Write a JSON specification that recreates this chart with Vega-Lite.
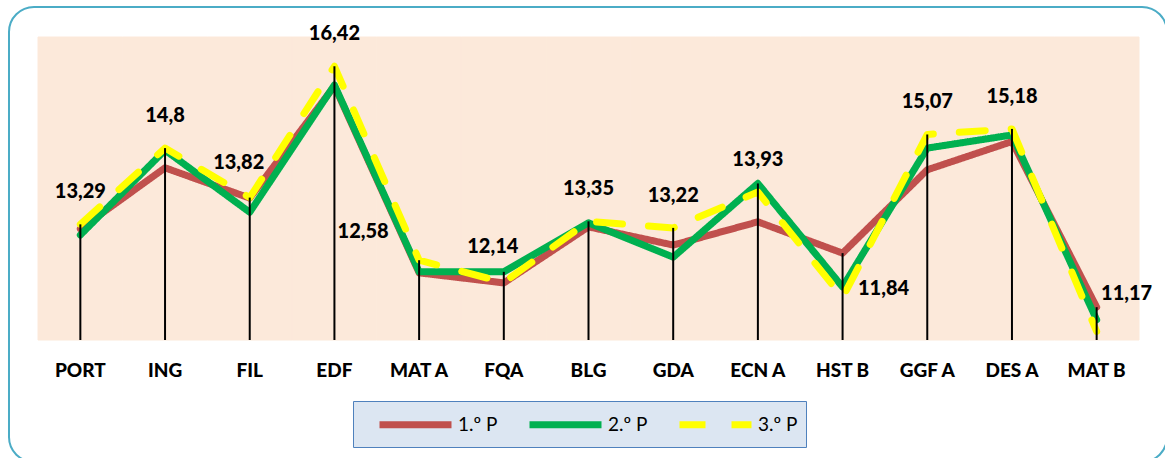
{
  "$schema": "https://vega.github.io/schema/vega-lite/v6.json",
  "width": 1158,
  "height": 455,
  "autosize": {"type": "none"},
  "padding": {"left": 9, "top": 7, "right": 0, "bottom": 0},
  "background": "white",
  "config": {
    "view": {"stroke": "#4BACC6", "strokeWidth": 2, "cornerRadius": 25},
    "locale": {"number": {"decimal": ",", "thousands": ".", "grouping": [3], "currency": ["", " €"]}},
    "font": "Lato"
  },
  "data": {
    "values": [
      {"subject": "PORT", "period": "1.º P", "value": 13.2},
      {"subject": "ING", "period": "1.º P", "value": 14.41},
      {"subject": "FIL", "period": "1.º P", "value": 13.81},
      {"subject": "EDF", "period": "1.º P", "value": 16.03},
      {"subject": "MAT A", "period": "1.º P", "value": 12.33},
      {"subject": "FQA", "period": "1.º P", "value": 12.13},
      {"subject": "BLG", "period": "1.º P", "value": 13.24},
      {"subject": "GDA", "period": "1.º P", "value": 12.88},
      {"subject": "ECN A", "period": "1.º P", "value": 13.34},
      {"subject": "HST B", "period": "1.º P", "value": 12.72},
      {"subject": "GGF A", "period": "1.º P", "value": 14.37},
      {"subject": "DES A", "period": "1.º P", "value": 14.93},
      {"subject": "MAT B", "period": "1.º P", "value": 11.65},
      {"subject": "PORT", "period": "2.º P", "value": 13.08},
      {"subject": "ING", "period": "2.º P", "value": 14.76},
      {"subject": "FIL", "period": "2.º P", "value": 13.53},
      {"subject": "EDF", "period": "2.º P", "value": 16.05},
      {"subject": "MAT A", "period": "2.º P", "value": 12.35},
      {"subject": "FQA", "period": "2.º P", "value": 12.35},
      {"subject": "BLG", "period": "2.º P", "value": 13.32},
      {"subject": "GDA", "period": "2.º P", "value": 12.64},
      {"subject": "ECN A", "period": "2.º P", "value": 14.1},
      {"subject": "HST B", "period": "2.º P", "value": 12.05},
      {"subject": "GGF A", "period": "2.º P", "value": 14.8},
      {"subject": "DES A", "period": "2.º P", "value": 15.06},
      {"subject": "MAT B", "period": "2.º P", "value": 11.4},
      {"subject": "PORT", "period": "3.º P", "value": 13.29},
      {"subject": "ING", "period": "3.º P", "value": 14.8},
      {"subject": "FIL", "period": "3.º P", "value": 13.82},
      {"subject": "EDF", "period": "3.º P", "value": 16.42},
      {"subject": "MAT A", "period": "3.º P", "value": 12.58},
      {"subject": "FQA", "period": "3.º P", "value": 12.14},
      {"subject": "BLG", "period": "3.º P", "value": 13.35},
      {"subject": "GDA", "period": "3.º P", "value": 13.22},
      {"subject": "ECN A", "period": "3.º P", "value": 13.93},
      {"subject": "HST B", "period": "3.º P", "value": 11.84},
      {"subject": "GGF A", "period": "3.º P", "value": 15.07},
      {"subject": "DES A", "period": "3.º P", "value": 15.18},
      {"subject": "MAT B", "period": "3.º P", "value": 11.17}
    ]
  },
  "encoding": {
    "x": {
      "field": "subject",
      "type": "nominal",
      "scale": {
        "type": "band",
        "domain": ["PORT", "ING", "FIL", "EDF", "MAT A", "FQA", "BLG", "GDA", "ECN A", "HST B", "GGF A", "DES A", "MAT B"],
        "range": [29, 1130],
        "paddingInner": 0,
        "paddingOuter": 0
      },
      "axis": {
        "title": null,
        "orient": "bottom",
        "offset": -92,
        "domain": false,
        "ticks": false,
        "labelPadding": 0,
        "labelBaseline": "middle",
        "labelAngle": 0,
        "labelFont": "Lato",
        "labelFontWeight": 900,
        "labelFontSize": 19,
        "labelColor": "#000000"
      }
    }
  },
  "layer": [
    {
      "transform": [{"filter": "datum.period === '3.º P'"}],
      "mark": {"type": "rect", "color": "#FCE9DA", "stroke": "#FCE9DA", "strokeWidth": 1},
      "encoding": {
        "y": {"datum": 11, "type": "quantitative", "scale": {"domain": [11, 17], "range": [333, 30], "nice": false, "zero": false}, "axis": null},
        "y2": {"datum": 17}
      }
    },
    {
      "mark": {"type": "line", "strokeWidth": 7, "strokeCap": "round", "strokeJoin": "round"},
      "encoding": {
        "y": {"field": "value", "type": "quantitative"},
        "color": {
          "field": "period",
          "type": "nominal",
          "scale": {"domain": ["1.º P", "2.º P", "3.º P"], "range": ["#C0504D", "#00B050", "#FFFF00"]},
          "legend": {
            "title": null,
            "orient": "none",
            "legendX": 344,
            "legendY": 394,
            "direction": "horizontal",
            "columns": 3,
            "columnPadding": 13,
            "padding": 8,
            "fillColor": "#DCE6F2",
            "strokeColor": "#4F81BD",
            "symbolType": "M-1,0H5",
            "symbolSize": 576,
            "symbolOffset": 15,
            "symbolStrokeWidth": 7,
            "labelOffset": 51,
            "labelFont": "Lato",
            "labelFontSize": 19,
            "labelColor": "#000000"
          }
        },
        "strokeDash": {
          "field": "period",
          "type": "nominal",
          "scale": {"domain": ["1.º P", "2.º P", "3.º P"], "range": [[1, 0], [1, 0], [26, 26]]},
          "legend": null
        }
      }
    },
    {
      "transform": [{"aggregate": [{"op": "max", "field": "value", "as": "top"}], "groupby": ["subject"]}],
      "mark": {"type": "rule", "color": "#000000", "strokeWidth": 2},
      "encoding": {
        "y": {"field": "top", "type": "quantitative"},
        "y2": {"datum": 11}
      }
    },
    {
      "transform": [{"filter": "datum.period === '3.º P' && indexof(['FIL','FQA','MAT A','HST B','MAT B'], datum.subject) < 0"}],
      "mark": {"type": "text", "font": "Lato", "fontWeight": 900, "fontSize": 20, "color": "#000000", "baseline": "middle", "dy": -32},
      "encoding": {
        "y": {"field": "value", "type": "quantitative"},
        "text": {"field": "value", "type": "quantitative", "format": ".2~f"}
      }
    },
    {
      "transform": [{"filter": "datum.period === '3.º P' && (datum.subject === 'FIL' || datum.subject === 'FQA')"}],
      "mark": {"type": "text", "font": "Lato", "fontWeight": 900, "fontSize": 20, "color": "#000000", "baseline": "middle", "dx": -11, "dy": -35},
      "encoding": {
        "y": {"field": "value", "type": "quantitative"},
        "text": {"field": "value", "type": "quantitative", "format": ".2~f"}
      }
    },
    {
      "transform": [{"filter": "datum.period === '3.º P' && datum.subject === 'MAT A'"}],
      "mark": {"type": "text", "font": "Lato", "fontWeight": 900, "fontSize": 20, "color": "#000000", "baseline": "middle", "dx": -56, "dy": -28},
      "encoding": {
        "y": {"field": "value", "type": "quantitative"},
        "text": {"field": "value", "type": "quantitative", "format": ".2~f"}
      }
    },
    {
      "transform": [{"filter": "datum.period === '3.º P' && datum.subject === 'HST B'"}],
      "mark": {"type": "text", "font": "Lato", "fontWeight": 900, "fontSize": 20, "color": "#000000", "baseline": "middle", "dx": 41, "dy": -9},
      "encoding": {
        "y": {"field": "value", "type": "quantitative"},
        "text": {"field": "value", "type": "quantitative", "format": ".2~f"}
      }
    },
    {
      "transform": [{"filter": "datum.period === '3.º P' && datum.subject === 'MAT B'"}],
      "mark": {"type": "text", "font": "Lato", "fontWeight": 900, "fontSize": 20, "color": "#000000", "baseline": "middle", "dx": 30, "dy": -37},
      "encoding": {
        "y": {"field": "value", "type": "quantitative"},
        "text": {"field": "value", "type": "quantitative", "format": ".2~f"}
      }
    }
  ]
}
